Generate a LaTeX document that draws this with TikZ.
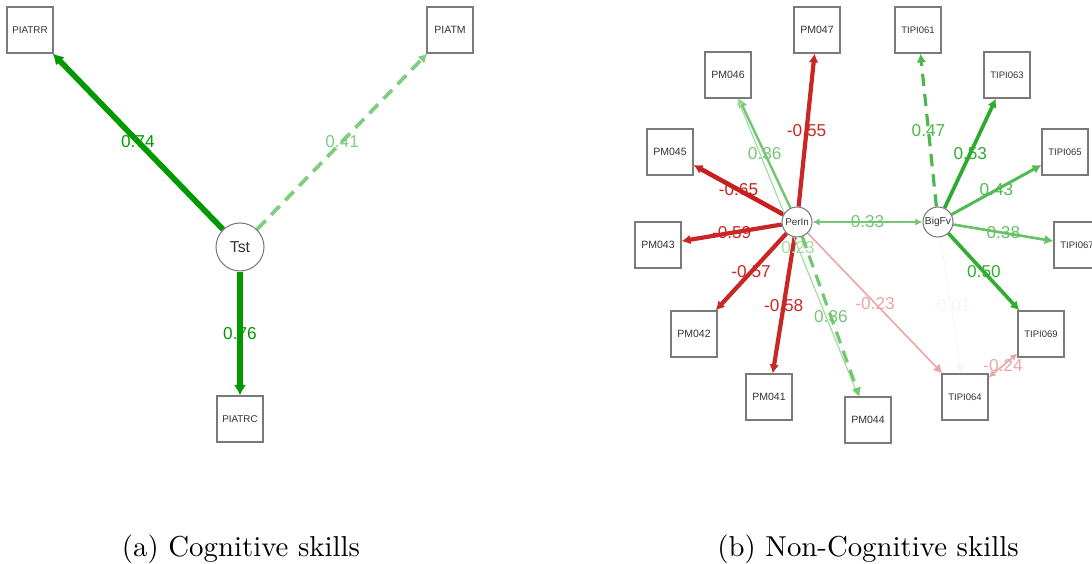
\documentclass[tikz,border=0pt]{standalone}
\usepackage{fontspec}
\usepackage{tikz}
\usepackage{xcolor}
\usetikzlibrary{arrows.meta,backgrounds}

\newfontfamily\qgfont{Liberation Sans}
\newfontfamily\capfont{lmroman10-regular.otf}
\definecolor{posc}{HTML}{009900}
\definecolor{negc}{HTML}{BF0000}
\definecolor{boxgray}{HTML}{7A7A7A}
\definecolor{txtgray}{HTML}{333333}

\tikzset{
  manifest/.style={draw=boxgray, line width=0.7pt, fill=white, rectangle,
    minimum width=0.92cm, minimum height=0.92cm, inner sep=0pt, text=txtgray,
    font=\qgfont\fontsize{6}{6}\selectfont},
  tipi/.style={manifest, font=\qgfont\fontsize{5.4}{6}\selectfont},
  latent/.style={draw=boxgray, line width=0.6pt, fill=white, circle,
    inner sep=0pt, text=txtgray},
  wlabel/.style={font=\qgfont\fontsize{9.8}{10}\selectfont, inner sep=0pt},
  onearr/.style={-{Latex[length=5pt,width=5.5pt]}},
  bigarr/.style={-{Latex[length=6pt,width=7pt]}},
  twoarr/.style={{Latex[length=4pt,width=4pt]}-{Latex[length=4pt,width=4pt]}},
  dashline/.style={dash pattern=on 7pt off 4.5pt},
  caption/.style={font=\capfont\fontsize{16.4}{18}\selectfont}
}

\begin{document}
\begin{tikzpicture}[x=0.02cm, y=-0.02cm]
    \useasboundingbox (0,0) rectangle (1092,564);
    \clip (0,0) rectangle (1092,564);

    % Nodes (a)
    \node[latent, minimum size=0.96cm, font=\qgfont\fontsize{9}{10}\selectfont] (tst) at (240,247) {Tst};
    \node[manifest, font=\qgfont\fontsize{5.6}{6}\selectfont] (piatrr) at (30,30) {PIATRR};
    \node[manifest] (piatm) at (450,30) {PIATM};
    \node[manifest, font=\qgfont\fontsize{5.6}{6}\selectfont] (piatrc) at (240,419) {PIATRC};

    % Nodes (b)
    \node[latent, minimum size=0.6cm, font=\qgfont\fontsize{5.6}{6}\selectfont] (perin) at (797,222) {PerIn};
    \node[latent, minimum size=0.6cm, font=\qgfont\fontsize{5.8}{6}\selectfont] (bigfv) at (938,222) {BigFv};
    \node[manifest] (pm047) at (817,30) {PM047};
    \node[manifest] (pm046) at (728,75) {PM046};
    \node[manifest] (pm045) at (670,152) {PM045};
    \node[manifest] (pm043) at (658,245) {PM043};
    \node[manifest] (pm042) at (694,334) {PM042};
    \node[manifest] (pm041) at (769,397) {PM041};
    \node[manifest] (pm044) at (868,420) {PM044};
    \node[tipi] (tipi061) at (918,30) {TIPI061};
    \node[tipi] (tipi063) at (1007,75) {TIPI063};
    \node[tipi] (tipi065) at (1065,152) {TIPI065};
    \node[tipi] (tipi067) at (1077,245) {TIPI067};
    \node[tipi] (tipi069) at (1041,334) {TIPI069};
    \node[tipi] (tipi064) at (965,397) {TIPI064};

    % Arrows (a)
    \begin{scope}[on background layer]
    \draw[bigarr, color=posc, line width=3.2pt] (tst) -- node[wlabel]{0.74} (piatrr);
    \draw[onearr, dashline, color=posc!50!white, line width=2.1pt] (tst) -- node[wlabel]{0.41} (piatm);
    \draw[bigarr, color=posc, line width=3.2pt] (tst) -- node[wlabel]{0.76} (piatrc);

    % Arrows (b)
    \draw[onearr, color=negc!85!white, line width=2.4pt] (perin) -- node[wlabel]{-0.55} (pm047);
    \draw[onearr, color=posc!55!white, line width=1.4pt] (perin) -- node[wlabel]{0.36} (pm046);
    \draw[onearr, color=negc!88!white, line width=2.6pt] (perin) -- node[wlabel]{-0.65} (pm045);
    \draw[onearr, color=negc!85!white, line width=2.4pt] (perin) -- node[wlabel]{-0.59} (pm043);
    \draw[onearr, color=negc!85!white, line width=2.4pt] (perin) -- node[wlabel]{-0.57} (pm042);
    \draw[onearr, color=negc!85!white, line width=2.4pt] (perin) -- node[wlabel]{-0.58} (pm041);
    \draw[twoarr, color=posc!35!white, line width=0.7pt] (pm046) -- node[wlabel]{0.23} (pm044);
    \draw[onearr, dashline, color=posc!55!white, line width=1.8pt] (perin) -- node[wlabel]{0.36} (pm044);
    \draw[onearr, color=negc!35!white, line width=0.9pt] (perin) -- node[wlabel]{-0.23} (tipi064);
    \draw[twoarr, color=posc!55!white, line width=1.4pt] (perin) -- node[wlabel]{0.33} (bigfv);
    \draw[onearr, dashline, color=posc!70!white, line width=1.8pt] (bigfv) -- node[wlabel]{0.47} (tipi061);
    \draw[onearr, color=posc!82!white, line width=2.1pt] (bigfv) -- node[wlabel]{0.53} (tipi063);
    \draw[onearr, color=posc!68!white, line width=1.7pt] (bigfv) -- node[wlabel]{0.43} (tipi065);
    \draw[onearr, color=posc!60!white, line width=1.5pt] (bigfv) -- node[wlabel]{0.38} (tipi067);
    \draw[onearr, color=posc!80!white, line width=2.1pt] (bigfv) -- node[wlabel]{0.50} (tipi069);
    \draw[onearr, color=negc!5!white, line width=0.5pt] (bigfv) -- node[wlabel]{-0.01} (tipi064);
    \draw[twoarr, color=negc!35!white, line width=0.9pt] (tipi064) -- node[wlabel]{-0.24} (tipi069);
    \end{scope}

    % Labels
    \node[caption] (capa) at (241,549) {(a) Cognitive skills};
    \node[caption] (capb) at (868,549) {(b) Non-Cognitive skills};
\end{tikzpicture}
\end{document}
